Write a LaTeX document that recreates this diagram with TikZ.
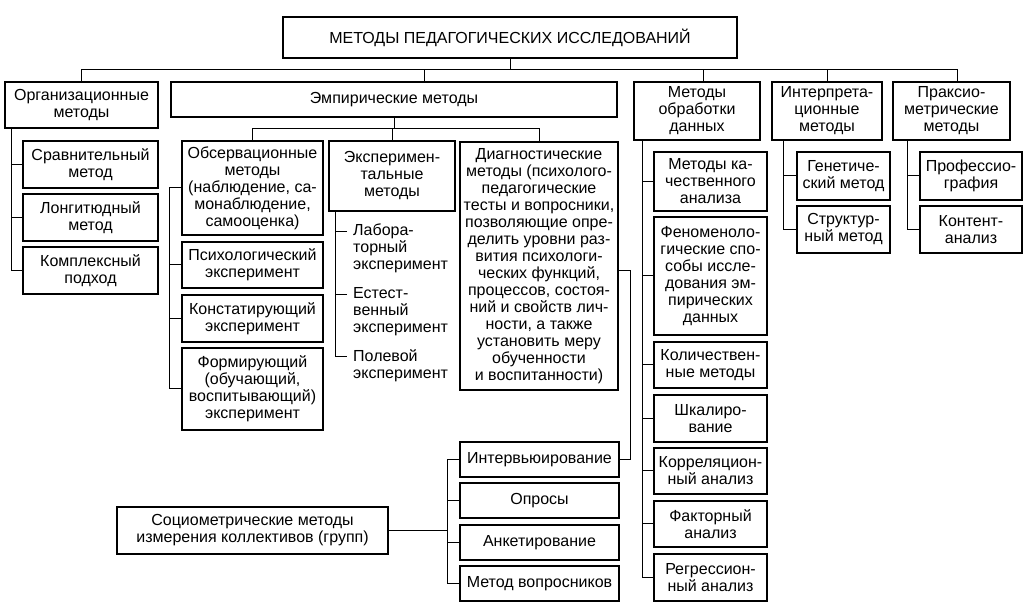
\documentclass[tikz,border=0pt]{standalone}
\usepackage{fontspec}
\setmainfont{Liberation Sans}
\usetikzlibrary{calc}

\begin{document}
\begin{tikzpicture}[x=1pt,y=1pt,
	box/.style={draw,line width=1.2pt,align=center,inner sep=0pt,font=\fontsize{16}{17}\selectfont},
	plain/.style={align=left,inner sep=0pt,anchor=north west,font=\fontsize{16}{17}\selectfont},
	line/.style={line width=1pt}]
	\useasboundingbox (0,0) rectangle (1035,615);
	
	% top level
	\node[box,minimum width=454pt,minimum height=41pt] (title) at (510,577.5) {МЕТОДЫ ПЕДАГОГИЧЕСКИХ ИССЛЕДОВАНИЙ};
	\node[box,minimum width=153pt,minimum height=46pt] (org) at (81.5,510) {Организационные\\методы};
	\node[box,minimum width=446pt,minimum height=35pt] (emp) at (394,515.5) {Эмпирические методы};
	\node[box,minimum width=126pt,minimum height=58pt] (obr) at (697,504) {Методы\\обработки\\данных};
	\node[box,minimum width=110pt,minimum height=58pt] (intp) at (827,504) {Интерпрета-\\ционные\\методы};
	\node[box,minimum width=117pt,minimum height=58pt] (prax) at (951.5,504) {Праксио-\\метрические\\методы};
	
	\coordinate (bus) at (0,545);
	\draw[line] (title.south) -- (title.south |- bus);
	\draw[line] (org.north) -- (org.north |- bus) -| ([xshift=5.5pt]prax.north);
	\draw[line] ([xshift=30pt]emp.north |- bus) -- ([xshift=30pt]emp.north);
	\draw[line] ([xshift=6pt]obr.north) -- ([xshift=6pt]obr.north |- bus);
	\draw[line] (intp.north) -- (intp.north |- bus);
	
	% organizational
	\node[box,minimum width=135pt,minimum height=47pt] (sr) at (90.5,450.5) {Сравнительный\\метод};
	\node[box,minimum width=135pt,minimum height=47pt] (lon) at (90.5,397.5) {Лонгитюдный\\метод};
	\node[box,minimum width=135pt,minimum height=47pt] (kom) at (90.5,344.5) {Комплексный\\подход};
	\draw[line] ([xshift=7pt]org.south west) |- (kom.west);
	\foreach \n in {sr,lon} \draw[line] (\n.west) -- ++(-11,0);
	
	% empirical
	\node[box,minimum width=141pt,minimum height=94pt] (obs) at (252.5,427) {Обсервационные\\методы\\(наблюдение, са-\\монаблюдение,\\самооценка)};
	\node[box,minimum width=141pt,minimum height=46pt] (psy) at (252.5,350) {Психологический\\эксперимент};
	\node[box,minimum width=141pt,minimum height=47pt] (kon) at (252.5,296.5) {Констатирующий\\эксперимент};
	\node[box,minimum width=141pt,minimum height=82pt] (form) at (252.5,226) {Формирующий\\(обучающий,\\воспитывающий)\\эксперимент};
	\node[box,minimum width=126pt,minimum height=70pt] (eksp) at (392,439) {Эксперимен-\\тальные\\методы};
	\node[box,minimum width=158pt,minimum height=248pt] (diag) at (539,349) {Диагностические\\методы (психолого-\\педагогические\\тесты и вопросники,\\позволяющие опре-\\делить уровни раз-\\вития психологи-\\ческих функций,\\процессов, состоя-\\ний и свойств лич-\\ности, а также\\установить меру\\обученности\\и воспитанности)};
	
	\coordinate (ebus) at (0,486);
	\draw[line] (emp.south) -- (emp.south |- ebus);
	\draw[line] (obs.north) -- (obs.north |- ebus) -| (diag.north);
	\draw[line] (eksp.north) -- (eksp.north |- ebus);
	
	\draw[line] (obs.west) -- ++(-12,0) |- (form.west);
	\foreach \n in {psy,kon} \draw[line] (\n.west) -- ++(-12,0);
	
	\node[plain] (lab) at (353,391) {Лабора-\\торный\\эксперимент};
	\node[plain] (est) at (353,328) {Естест-\\венный\\эксперимент};
	\node[plain] (pol) at (353,266) {Полевой\\эксперимент};
	\draw[line] ([xshift=7pt]eksp.south west) |- ([shift={(-6,-8)}]pol.north west);
	\foreach \n in {lab,est} \draw[line] ([shift={(-6,-8)}]\n.north west) -- ++(-11,0);
	
	% sociometric
	\node[box,minimum width=159pt,minimum height=35pt] (int) at (539.5,155.5) {Интервьюирование};
	\node[box,minimum width=159pt,minimum height=35pt] (opr) at (539.5,114.5) {Опросы};
	\node[box,minimum width=159pt,minimum height=35pt] (ank) at (539.5,72.5) {Анкетирование};
	\node[box,minimum width=159pt,minimum height=35pt] (vop) at (539.5,31.5) {Метод вопросников};
	\node[box,minimum width=271pt,minimum height=47pt] (soc) at (252.5,84.5) {Социометрические методы\\измерения коллективов (групп)};
	
	\draw[line] ([yshift=-5pt]diag.east) -- ++(12,0) |- (int.east);
	\draw[line] (int.west) -- ++(-12,0) |- (vop.west);
	\foreach \n in {opr,ank} \draw[line] (\n.west) -- ++(-12,0);
	\draw[line] (soc.east) -- ([xshift=-12pt]soc.east -| int.west);
	
	% data processing
	\node[box,minimum width=113pt,minimum height=59pt] (kach) at (710.5,433.5) {Методы ка-\\чественного\\анализа};
	\node[box,minimum width=113pt,minimum height=118pt] (fen) at (710.5,339) {Феноменоло-\\гические спо-\\собы иссле-\\дования эм-\\пирических\\данных};
	\node[box,minimum width=113pt,minimum height=46pt] (kol) at (710.5,250) {Количествен-\\ные методы};
	\node[box,minimum width=113pt,minimum height=47pt] (shk) at (710.5,196.5) {Шкалиро-\\вание};
	\node[box,minimum width=113pt,minimum height=46pt] (kor) at (710.5,144) {Корреляцион-\\ный анализ};
	\node[box,minimum width=113pt,minimum height=46pt] (fak) at (710.5,91) {Факторный\\анализ};
	\node[box,minimum width=113pt,minimum height=47pt] (reg) at (710.5,37.5) {Регрессион-\\ный анализ};
	\draw[line] ([xshift=9pt]obr.south west) |- (reg.west);
	\foreach \n in {kach,fen,kol,shk,kor,fak} \draw[line] (\n.west) -- ++(-11,0);
	
	% interpretation
	\node[box,minimum width=93pt,minimum height=48pt] (gen) at (843.5,439) {Генетиче-\\ский метод};
	\node[box,minimum width=93pt,minimum height=47pt] (str) at (843.5,385.5) {Структур-\\ный метод};
	\draw[line] ([xshift=12pt]intp.south west) |- (str.west);
	\draw[line] (gen.west) -- ++(-13,0);
	
	% praxiometric
	\node[box,minimum width=102pt,minimum height=48pt] (prof) at (971,439) {Профессио-\\графия};
	\node[box,minimum width=102pt,minimum height=47pt] (kont) at (971,385.5) {Контент-\\анализ};
	\draw[line] ([xshift=15pt]prax.south west) |- (kont.west);
	\draw[line] (prof.west) -- ++(-12,0);
\end{tikzpicture}
\end{document}
